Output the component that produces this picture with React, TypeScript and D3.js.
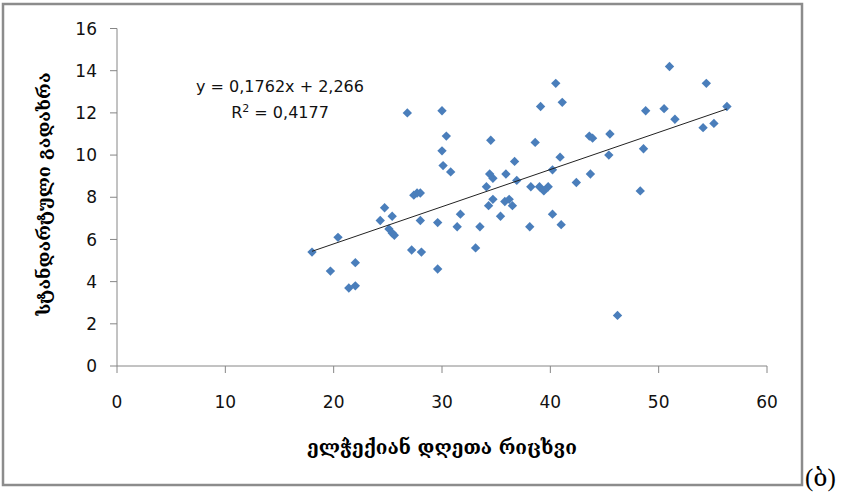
import React from "react";
import * as d3 from "d3";

// ელჭექიან დღეთა რიცხვი (x) vs სტანდარტული გადახრა (y)
const daysX = [
  18.0, 20.4, 19.7, 22.0, 21.4, 22.0, 24.7, 24.3, 25.4, 25.1, 25.4, 25.6, 26.8, 27.2, 27.4, 27.7, 28.0,
  28.0, 28.1, 29.6, 29.6, 30.0, 30.0, 30.4, 30.1, 30.8, 31.4, 31.7, 33.1, 33.5, 34.1, 34.5, 34.4, 34.7,
  34.3, 34.7, 35.4, 35.9, 35.8, 36.2, 36.5, 36.7, 36.9, 38.1, 38.2, 38.6, 39.1, 39.0, 39.4, 39.8, 40.2,
  40.5, 41.1, 40.2, 41.0, 40.9, 42.4, 43.6, 43.9, 43.7, 45.4, 45.5, 46.2, 48.3, 48.6, 48.8, 50.5, 51.0,
  51.5, 54.1, 54.4, 55.1, 56.3,
];
const stdY = [
  5.4, 6.1, 4.5, 4.9, 3.7, 3.8, 7.5, 6.9, 7.1, 6.5, 6.3, 6.2, 12.0, 5.5, 8.1, 8.2, 8.2,
  6.9, 5.4, 4.6, 6.8, 12.1, 10.2, 10.9, 9.5, 9.2, 6.6, 7.2, 5.6, 6.6, 8.5, 10.7, 9.1, 8.9,
  7.6, 7.9, 7.1, 9.1, 7.8, 7.9, 7.6, 9.7, 8.8, 6.6, 8.5, 10.6, 12.3, 8.5, 8.3, 8.5, 9.3,
  13.4, 12.5, 7.2, 6.7, 9.9, 8.7, 10.9, 10.8, 9.1, 10.0, 11.0, 2.4, 8.3, 10.3, 12.1, 12.2, 14.2,
  11.7, 11.3, 13.4, 11.5, 12.3,
];
const xTicks = [0, 10, 20, 30, 40, 50, 60];
const yTicks = [0, 2, 4, 6, 8, 10, 12, 14, 16];
const slope = 0.1762;
const intercept = 2.266;
const eqText = "y = 0,1762x + 2,266";
const xTitle = "ელჭექიან დღეთა რიცხვი";
const yTitle = "სტანდარტული გადახრა";

export default function App() {
  const x = d3.scaleLinear().domain([0, 60]).range([117, 767]);
  const y = d3.scaleLinear().domain([0, 16]).range([366, 28.5]);
  const axisColor = "#868686";
  const tickFont = "'DejaVu Sans', sans-serif";
  const georgianFont = "'DejaVu Serif', serif";

  const pts = daysX.map((d, i) => ({ x: d, y: stdY[i] }));
  const [xmin, xmax] = d3.extent(daysX) as [number, number];
  const trend = d3.line<number>()
    .x((d) => x(d))
    .y((d) => y(slope * d + intercept))([xmin, xmax]);
  const diamond = d3.symbol().type(d3.symbolDiamond2).size(56)();

  return (
    <svg width={845} height={493} style={{ position: "absolute", left: 0, top: 0, background: "#fff" }}>
      <rect x={3} y={4} width={799} height={481} fill="#fff" stroke="#8c8c8c" strokeWidth={2.5} />

      {/* y axis */}
      <line x1={x(0)} x2={x(0)} y1={y(16)} y2={y(0)} stroke={axisColor} />
      {yTicks.map((t) => (
        <g key={"y" + t}>
          <line x1={x(0) - 7} x2={x(0)} y1={y(t)} y2={y(t)} stroke={axisColor} />
          <text x={97} y={y(t)} dy="0.36em" textAnchor="end" fontFamily={tickFont} fontSize={17} fill="#111">
            {t}
          </text>
        </g>
      ))}

      {/* x axis */}
      <line x1={x(0)} x2={x(60)} y1={y(0)} y2={y(0)} stroke={axisColor} />
      {xTicks.map((t) => (
        <g key={"x" + t}>
          <line x1={x(t)} x2={x(t)} y1={y(0)} y2={y(0) + 7} stroke={axisColor} />
          <text x={x(t)} y={402} dy="0.36em" textAnchor="middle" fontFamily={tickFont} fontSize={17} fill="#111">
            {t}
          </text>
        </g>
      ))}

      {/* points */}
      {pts.map((p, i) => (
        <path key={i} d={diamond || ""} transform={`translate(${x(p.x)},${y(p.y)})`} fill="#4a7ebb" />
      ))}

      {/* trend line */}
      <path d={trend || ""} fill="none" stroke="#222" strokeWidth={1} />

      <text x={280} y={86} dy="0.36em" textAnchor="middle" fontFamily={tickFont} fontSize={16} fill="#111">
        {eqText}
      </text>
      <text x={280} y={112} dy="0.36em" textAnchor="middle" fontFamily={tickFont} fontSize={16} fill="#111">
        R<tspan dy="-6" fontSize={11}>2</tspan><tspan dy="6"> = 0,4177</tspan>
      </text>

      <text x={442} y={447} dy="0.36em" textAnchor="middle" fontFamily={georgianFont} fontWeight="bold" fontSize={19} fill="#000">
        {xTitle}
      </text>
      <text
        transform={`translate(44,194) rotate(-90)`}
        dy="0.36em"
        textAnchor="middle"
        fontFamily={georgianFont}
        fontWeight="bold"
        fontSize={18}
        fill="#000"
      >
        {yTitle}
      </text>

      <text x={805} y={486} fontFamily="'Liberation Serif', 'DejaVu Serif', serif" fontSize={25} fill="#000">
        (ბ)
      </text>
    </svg>
  );
}
